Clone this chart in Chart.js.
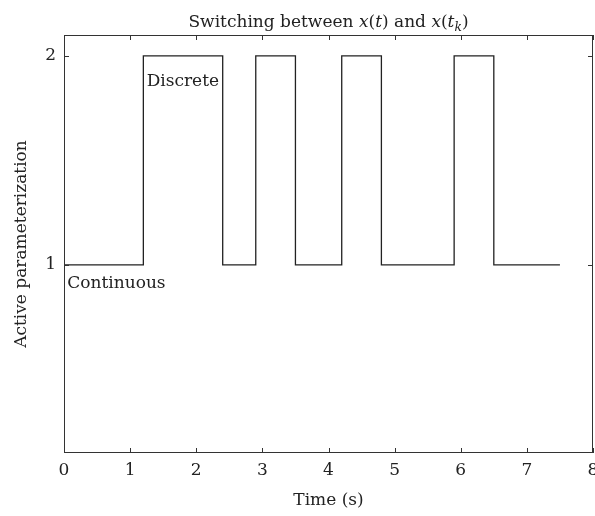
<!DOCTYPE html>
<html>
<head>
<meta charset="utf-8">
<script src="https://cdn.jsdelivr.net/npm/chart.js@4"></script>
<style>
  html, body { margin: 0; padding: 0; background: #fff; }
  #wrap { position: relative; width: 595px; height: 516px; }
  #title {
    position: absolute; left: 64px; width: 529px; top: 11px;
    text-align: center; font: 17px "DejaVu Serif"; color: #222; line-height: 20px;
  }
  #title .sub { font-size: 0.72em; position: relative; top: 0.35em; }
</style>
</head>
<body>
<div id="wrap">
  <canvas id="c" width="595" height="516"></canvas>
  <div id="title">Switching between <i>x</i>(<i>t</i>) and <i>x</i>(<i>t</i><i class="sub">k</i>)</div>
</div>
<script>
// switching instants (s) and which parameterization is active from each one on
var switchTimes = [0, 1.2, 2.4, 2.9, 3.5, 4.2, 4.8, 5.9, 6.5, 7.5];
var activeParam = [1, 2, 1, 2, 1, 2, 1, 2, 1, 1];
var xTicks = [0, 1, 2, 3, 4, 5, 6, 7, 8];
var yTicks = [1, 2];
var noteText = ['Discrete', 'Continuous'];
var noteX = [1.25, 0.05];
var noteY = [1.857, 0.89];

var INK = '#222';
var FONT = { family: '"DejaVu Serif", serif', size: 17 };

// box round the plot, inward ticks on all four sides, and the two text notes
var framePlugin = {
  id: 'frame',
  afterDatasetsDraw: function (chart) {
    var ctx = chart.ctx, a = chart.chartArea;
    var xs = chart.scales.x, ys = chart.scales.y;
    var len = 5;
    ctx.save();
    ctx.strokeStyle = '#333';
    ctx.lineWidth = 1;
    ctx.strokeRect(a.left + 0.5, a.top + 0.5, a.right - a.left - 1, a.bottom - a.top - 1);
    ctx.beginPath();
    xTicks.forEach(function (v) {
      var px = Math.round(xs.getPixelForValue(v)) + 0.5;
      ctx.moveTo(px, a.bottom); ctx.lineTo(px, a.bottom - len);
      ctx.moveTo(px, a.top);    ctx.lineTo(px, a.top + len);
    });
    yTicks.forEach(function (v) {
      var py = Math.round(ys.getPixelForValue(v)) + 0.5;
      ctx.moveTo(a.left, py);  ctx.lineTo(a.left + len, py);
      ctx.moveTo(a.right, py); ctx.lineTo(a.right - len, py);
    });
    ctx.stroke();

    ctx.fillStyle = INK;
    ctx.font = FONT.size + 'px ' + FONT.family;
    ctx.textAlign = 'left';
    ctx.textBaseline = 'alphabetic';
    noteText.forEach(function (t, i) {
      ctx.fillText(t, xs.getPixelForValue(noteX[i]), ys.getPixelForValue(noteY[i]));
    });
    ctx.restore();
  }
};

new Chart(document.getElementById('c'), {
  type: 'line',
  data: {
    datasets: [{
      label: 'Active parameterization',
      data: switchTimes.map(function (t, i) { return { x: t, y: activeParam[i] }; }),
      stepped: 'before',
      borderColor: INK,
      borderWidth: 1.3,
      pointRadius: 0,
      fill: false
    }]
  },
  options: {
    responsive: false,
    animation: false,
    devicePixelRatio: 1,
    layout: { padding: { top: 35, right: 2, left: 0, bottom: 0 } },
    plugins: { legend: { display: false }, tooltip: { enabled: false } },
    scales: {
      x: {
        type: 'linear', min: 0, max: 8,
        afterBuildTicks: function (s) { s.ticks = xTicks.map(function (v) { return { value: v }; }); },
        afterFit: function (s) { s.height = 63; s.paddingLeft = 0; s.paddingRight = 0; },
        grid: { display: false, drawTicks: false },
        border: { display: false },
        ticks: { color: INK, font: FONT, padding: 7, maxRotation: 0 },
        title: { display: true, text: 'Time (s)', color: INK, font: FONT, padding: { top: 0, bottom: 5 } }
      },
      y: {
        type: 'linear', min: 0.1, max: 2.1,
        afterBuildTicks: function (s) { s.ticks = yTicks.map(function (v) { return { value: v }; }); },
        afterFit: function (s) { s.width = 64; s.paddingTop = 0; s.paddingBottom = 0; },
        grid: { display: false, drawTicks: false },
        border: { display: false },
        ticks: { color: INK, font: FONT, padding: 8 },
        title: { display: true, text: 'Active parameterization', color: INK, font: FONT, padding: { top: 11, bottom: 0 } }
      }
    }
  },
  plugins: [framePlugin]
});
</script>
</body>
</html>
